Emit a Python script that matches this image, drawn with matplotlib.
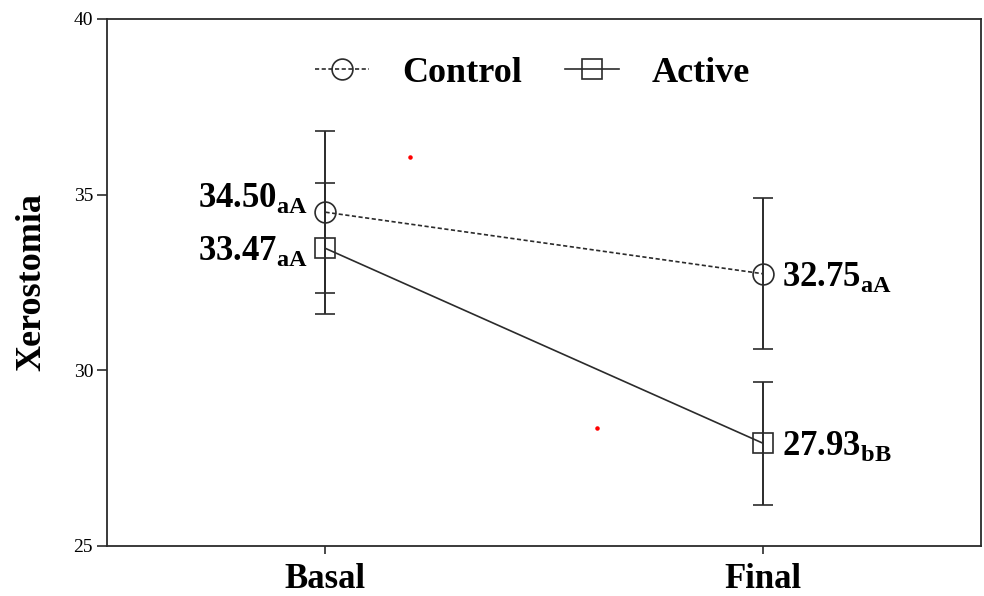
import numpy as np
import matplotlib.pyplot as plt
from matplotlib.lines import Line2D

plt.rcParams['font.family'] = 'Liberation Serif'
plt.rcParams['mathtext.fontset'] = 'custom'
plt.rcParams['mathtext.bf'] = 'Liberation Serif:bold'
plt.rcParams['mathtext.rm'] = 'Liberation Serif'

# Xerostomia scores, mean +/- error
periods = ['Basal', 'Final']
control_mean = [34.50, 32.75]
control_err = [2.30, 2.15]
control_tags = ['aA', 'aA']
active_mean = [33.47, 27.93]
active_err = [1.87, 1.75]
active_tags = ['aA', 'bB']

# two small red specks that sit in the original figure
speck_x = [0.193, 0.621]
speck_y = [36.07, 28.36]

ink = '#2b2b2b'
dotted = (0, (2.5, 1.5))
x = np.arange(len(periods))

fig = plt.figure(figsize=(9.84, 5.96), dpi=100)
ax = fig.add_axes([0.1087, 0.0839, 0.8883, 0.8843])

ax.errorbar(x, control_mean, yerr=control_err, color=ink, lw=1.2,
            linestyle=dotted, marker='o', ms=15, mfc='none',
            mec=ink, mew=1.2, ecolor=ink, elinewidth=1.4, capsize=7.2,
            capthick=1.4)
ax.errorbar(x, active_mean, yerr=active_err, color=ink, lw=1.2,
            linestyle='-', marker='s', ms=14, mfc='none',
            mec=ink, mew=1.2, ecolor=ink, elinewidth=1.4, capsize=7.2,
            capthick=1.4)

ax.scatter(speck_x, speck_y, s=5, color='red', zorder=3)

# value labels with letter subscripts
offsets = {(0, 'c'): (-17, 5), (0, 'a'): (-17, -12),
           (1, 'c'): (19, -12), (1, 'a'): (19, -12)}
for i in range(len(periods)):
    for key, means, tags in (('c', control_mean, control_tags),
                             ('a', active_mean, active_tags)):
        dx, dy = offsets[(i, key)]
        txt = r'$\mathbf{%.2f}_{\mathbf{%s}}$' % (means[i], tags[i])
        ax.annotate(txt, (x[i], means[i]), xytext=(dx, dy),
                    textcoords='offset pixels',
                    ha='right' if i == 0 else 'left', va='baseline',
                    fontsize=25)

ax.set_xlim(-0.5, 1.5)
ax.set_ylim(25, 40)
ax.set_yticks([25, 30, 35, 40])
ax.set_xticks(x)
ax.set_xticklabels(periods, fontsize=25, fontweight='bold')
ax.tick_params(axis='y', direction='out', length=7, width=1.2,
               labelsize=14, colors=ink, labelcolor='black', pad=3)
ax.tick_params(axis='x', direction='out', length=6, width=1.2,
               colors=ink, labelcolor='black', pad=6)
ax.set_ylabel('Xerostomia', fontsize=26, fontweight='bold')
ax.yaxis.set_label_coords(-0.067, 0.5)

for sp in ax.spines.values():
    sp.set_color(ink)
    sp.set_linewidth(1.3)

handles = [Line2D([], [], color=ink, lw=1.2, linestyle=dotted, marker='o',
                  ms=15, mfc='none', mec=ink, mew=1.2),
           Line2D([], [], color=ink, lw=1.2, linestyle='-', marker='s',
                  ms=14, mfc='none', mec=ink, mew=1.2)]
ax.legend(handles, ['Control', 'Active'], loc='upper center',
          bbox_to_anchor=(0.487, 0.99), ncol=2, frameon=False,
          prop={'size': 26, 'weight': 'bold'},
          handlelength=1.5, handletextpad=0.9, columnspacing=1.2)

fig.savefig('out.png', dpi=100)
